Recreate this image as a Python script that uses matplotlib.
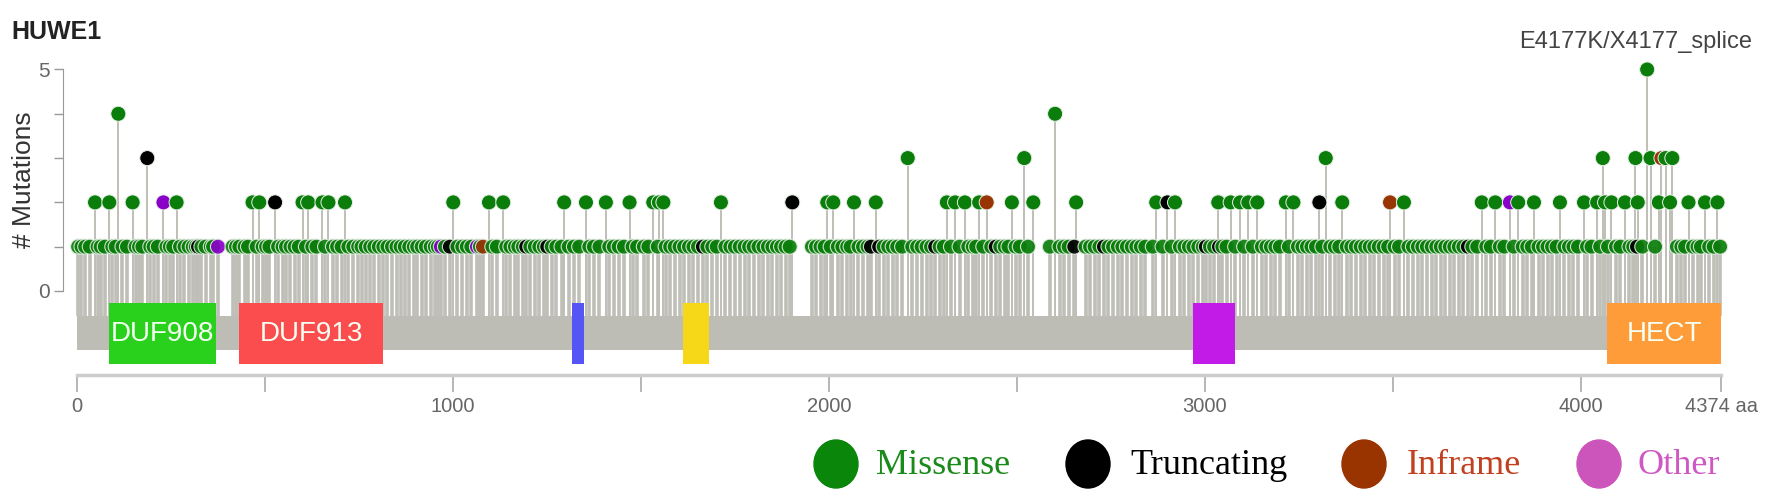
import matplotlib.pyplot as plt
from matplotlib.patches import Rectangle, Ellipse

plt.rcParams['font.family'] = ['Liberation Sans', 'DejaVu Sans']

# ============================================================
# DATA
# ============================================================
gene_name = "HUWE1"
protein_length = 4374

domain_names = ["DUF908", "DUF913", "", "", "", "HECT"]
domain_start = [84, 430, 1317, 1612, 2969, 4070]
domain_end = [370, 815, 1350, 1681, 3080, 4374]
domain_colors = ["#2ad11c", "#fb4d4d", "#5555f5", "#f6d818", "#c21be8", "#ff9c3a"]

# positions with a single mutation, split by type
single_missense = [
    3, 12, 22, 34, 55, 63, 74, 94, 103, 121, 133, 156, 165, 174, 195, 204,
    215, 238, 247, 256, 274, 286, 297, 308, 316, 331, 342, 356, 362,
    414, 423, 432, 446, 455, 478, 494,
    503, 512, 535, 547, 556, 568, 579, 590, 609, 626, 637, 660, 681, 692,
    704, 722, 735, 748, 757, 768, 780, 791, 803, 815, 826, 838, 850, 861,
    872, 884, 896, 905, 917, 928, 941, 952, 960, 979,
    1012, 1025, 1037, 1049, 1072, 1105, 1117, 1142, 1153, 1165, 1174, 1186,
    1206, 1218, 1230, 1242, 1263, 1275, 1289, 1308, 1322, 1336, 1363, 1375,
    1390, 1416, 1428, 1441, 1455, 1478, 1490,
    1508, 1520, 1545, 1566, 1578, 1590, 1603, 1615, 1628, 1640, 1652, 1677,
    1690, 1702, 1725, 1738, 1750, 1763, 1776, 1788, 1800, 1813, 1826, 1838,
    1850, 1862, 1873, 1885, 1896, 1955, 1966, 1978, 1989,
    2005, 2024, 2036, 2049, 2058, 2079, 2091, 2103, 2146, 2158, 2170, 2182,
    2195, 2222, 2235, 2247, 2260, 2272, 2295, 2306, 2325, 2348, 2371, 2383,
    2392, 2411, 2432, 2456, 2468, 2478, 2497,
    2508, 2530, 2588, 2614, 2626, 2638, 2683, 2695, 2707, 2720, 2744, 2756,
    2769, 2781, 2793, 2806, 2818, 2830, 2842, 2862, 2888, 2912, 2934, 2946,
    2958, 2970, 2983, 2995,
    3014, 3025, 3047, 3058, 3081, 3105, 3128, 3152, 3164, 3176, 3188, 3200,
    3224, 3248, 3260, 3272, 3284, 3296, 3313, 3334, 3346, 3358, 3378, 3390,
    3402, 3415, 3427, 3439, 3451, 3463, 3476, 3488,
    3505, 3517, 3542, 3554, 3567, 3579, 3591, 3604, 3616, 3628, 3640, 3652,
    3664, 3676, 3688, 3712, 3725, 3749, 3761, 3785, 3797, 3822, 3846, 3858,
    3870, 3888, 3900, 3912, 3924, 3936, 3957, 3969, 3981, 3993, 4017, 4029,
    4052, 4073, 4094, 4106, 4130, 4140, 4164, 4198, 4256, 4268, 4278, 4299,
    4311, 4320, 4342, 4354, 4371,
]
single_truncating = [322, 992, 1195, 1251, 1665, 2112, 2134, 2283, 2444,
                     2653, 2732, 3003, 3038, 3700, 4150]
single_other = [375, 968, 1064]
single_inframe = [1080]

# positions with two or more mutations
multi_pos = [48, 86, 110, 148, 187, 230, 265, 467, 485, 527, 600, 615, 653,
             669, 713, 1001, 1096, 1134, 1296, 1354, 1407, 1470, 1533, 1548,
             1560, 1713, 1903, 1996, 2012, 2067, 2125, 2210, 2314, 2336, 2362,
             2400, 2420, 2487, 2520, 2544, 2602, 2658, 2871, 2901, 2921, 3036,
             3069, 3094, 3116, 3140, 3216, 3236, 3305, 3322, 3366, 3493, 3530,
             3737, 3773, 3812, 3834, 3876, 3945, 4009, 4044, 4059, 4065, 4082,
             4118, 4146, 4152, 4177, 4186, 4208, 4215, 4226, 4238, 4244, 4287,
             4331, 4364]
multi_count = [2, 2, 4, 2, 3, 2, 2, 2, 2, 2, 2, 2, 2,
               2, 2, 2, 2, 2, 2, 2, 2, 2, 2, 2,
               2, 2, 2, 2, 2, 2, 2, 3, 2, 2, 2,
               2, 2, 2, 3, 2, 4, 2, 2, 2, 2, 2,
               2, 2, 2, 2, 2, 2, 2, 3, 2, 2, 2,
               2, 2, 2, 2, 2, 2, 2, 2, 3, 2, 2,
               2, 3, 2, 5, 3, 2, 3, 3, 2, 3, 2,
               2, 2]
multi_type = ["M", "M", "M", "M", "T", "O", "M", "M", "M", "T", "M", "M", "M",
              "M", "M", "M", "M", "M", "M", "M", "M", "M", "M", "M",
              "M", "M", "T", "M", "M", "M", "M", "M", "M", "M", "M",
              "M", "I", "M", "M", "M", "M", "M", "M", "T", "M", "M",
              "M", "M", "M", "M", "M", "M", "T", "M", "M", "I", "M",
              "M", "M", "O", "M", "M", "M", "M", "M", "M", "M", "M",
              "M", "M", "M", "M", "M", "M", "I", "M", "M", "M", "M",
              "M", "M"]

hotspot_label = "E4177K/X4177_splice"
hotspot_pos = 4177
hotspot_count = 5

legend_labels = ["Missense", "Truncating", "Inframe", "Other"]

# ============================================================
# STYLE
# ============================================================
type_colors = {"M": "#0a7d0a", "T": "#000000", "I": "#993404", "O": "#8b00c9"}
legend_dot_colors = ["#0a860a", "#000000", "#993300", "#cc55bb"]
legend_text_colors = ["#1a8a1a", "#000000", "#c0401f", "#cf58c4"]
stem_color = "#bfbfb8"
bar_color = "#bdbdb5"

bar_top, bar_bottom = -0.564, -1.33
dom_top, dom_bottom = -0.27, -1.65
axis_y = -1.896

fig = plt.figure(figsize=(17.72, 5.01), dpi=100)
W, H = 1772, 501
ax = fig.add_axes([63 / W, (H - 380) / H, (1740 - 63) / W, (380 - 60) / H])
ax.set_xlim(-37.2, 4424)
ax.set_ylim(-2.009, 5.214)

# protein bar + domains
ax.add_patch(Rectangle((0, bar_bottom), protein_length, bar_top - bar_bottom,
                       color=bar_color, zorder=1, lw=0))
for name, s, e, c in zip(domain_names, domain_start, domain_end, domain_colors):
    ax.add_patch(Rectangle((s, dom_bottom), e - s, dom_top - dom_bottom,
                           color=c, zorder=3, lw=0))
    if name:
        ax.text((s + e) / 2, (dom_top + dom_bottom) / 2, name, color="#f4fff4",
                fontsize=20, ha="center", va="center", zorder=4)

# single mutations sorted by position, so each head sits partly under the next
singles = sorted([(p, "M") for p in single_missense] +
                 [(p, "T") for p in single_truncating] +
                 [(p, "O") for p in single_other] +
                 [(p, "I") for p in single_inframe])
s_pos = [p for p, _ in singles]
s_col = [type_colors[t] for _, t in singles]

# stems
ax.vlines(s_pos, bar_top, 1, color=stem_color, lw=2.6, zorder=2)
ax.vlines(multi_pos, bar_top, multi_count, color=stem_color, lw=1.4, zorder=2)

# heads
bubble = 117
ax.scatter(s_pos, [1] * len(s_pos), s=bubble, c=s_col,
           edgecolors="#dfeadf", linewidths=0.8, alpha=0.92, zorder=5,
           clip_on=False, plotnonfinite=True)
ax.scatter(multi_pos, multi_count, s=bubble,
           c=[type_colors[t] for t in multi_type],
           edgecolors="#e6f0e6", linewidths=0.7, zorder=7, clip_on=False)

ax.annotate(hotspot_label, xy=(hotspot_pos, hotspot_count), xytext=(-8, 20),
            textcoords="offset points", ha="center", va="center",
            fontsize=17, color="#444444")

# axes
for side in ["top", "right"]:
    ax.spines[side].set_visible(False)
ax.spines["left"].set_bounds(0, 5)
ax.spines["left"].set_color("#999999")
ax.spines["bottom"].set_position(("data", axis_y))
ax.spines["bottom"].set_bounds(0, protein_length)
ax.spines["bottom"].set_color("#cccccc")
ax.spines["bottom"].set_linewidth(2.5)

xt = [0, 500, 1000, 1500, 2000, 2500, 3000, 3500, 4000, protein_length]
ax.set_xticks(xt)
ax.set_xticklabels(["0", "", "1000", "", "2000", "", "3000", "", "4000",
                    f"{protein_length} aa"])
ax.tick_params(axis="x", length=12, width=1.2, color="#aaaaaa",
               labelcolor="#666666", labelsize=14.5, pad=4)
ax.set_yticks([0, 1, 2, 3, 4, 5])
ax.set_yticklabels(["0", "", "", "", "", "5"])
ax.tick_params(axis="y", length=6.5, width=1, color="#999999",
               labelcolor="#666666", labelsize=15, pad=3)

fig.text(24 / W, 1 - 180 / H, "# Mutations", rotation=90, ha="center",
         va="center", fontsize=19, color="#333333")
fig.text(11 / W, 1 - 32 / H, gene_name, fontsize=18, weight="bold",
         ha="left", va="center", color="#222222")

# legend
lax = fig.add_axes([0, 0, 1, 1])
lax.set_xlim(0, W)
lax.set_ylim(H, 0)
lax.axis("off")
dot_x = [836, 1088, 1364, 1599]
text_x = [876, 1130, 1407, 1638]
for lbl, dx, tx, dc, tc in zip(legend_labels, dot_x, text_x,
                               legend_dot_colors, legend_text_colors):
    lax.add_patch(Ellipse((dx, 464), 44, 48, color=dc))
    lax.text(tx, 466, lbl, color=tc, fontsize=26, ha="left", va="center",
             family=["Liberation Serif", "DejaVu Serif"])

fig.savefig("out.png", dpi=100)
